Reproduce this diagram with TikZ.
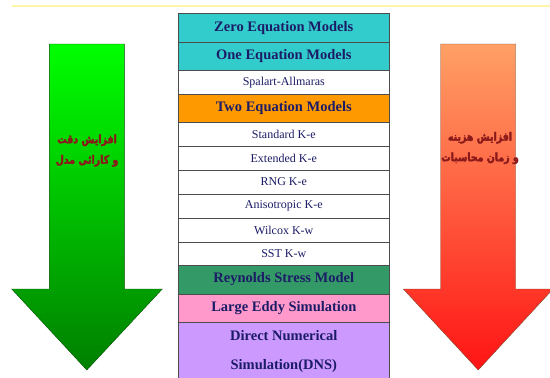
\documentclass[tikz,border=0pt]{standalone}
\usepackage{fontspec}
\setmainfont{Liberation Serif}
\newfontfamily\farsifont[Script=Arabic,FakeBold=3,FakeStretch=0.82]{DejaVu Sans Bold}
\TeXXeTstate=1
\usepackage{tikz}
\definecolor{textblue}{HTML}{1C1C66}
\definecolor{darkred}{HTML}{8B1A1A}
\definecolor{tcyan}{HTML}{33CCCC}
\definecolor{torange}{HTML}{FF9900}
\definecolor{tgreen}{HTML}{339966}
\definecolor{tpink}{HTML}{FF99CC}
\definecolor{tpurple}{HTML}{CC99FF}
\definecolor{topline}{HTML}{FFF4A8}
\definecolor{costtop}{HTML}{FFA066}
\definecolor{costbot}{HTML}{FF1414}
\definecolor{costrim}{HTML}{7A4A30}

\begin{document}
\begin{tikzpicture}[x=1pt,y=-1pt,
    cell/.style={draw=gray!60!black,minimum width=211pt,inner sep=0pt,text=textblue},
    hdr/.style={cell,font=\fontsize{14.5}{16}\selectfont\bfseries},
    item/.style={cell,fill=white,font=\fontsize{12}{14}\selectfont},
    farsi/.style={font=\farsifont\fontsize{11.5}{20.5}\selectfont,text=darkred,align=center}]
        % ستون جدول
        \newcommand{\colx}{283.8}

        \useasboundingbox (0,0) rectangle (550,378);

        % خط بالای صفحه
        \draw[topline,line width=2pt] (12,5.5) -- (550,5.5);

        % فلش سبز (چپ)
        \shade[top color=green,bottom color=green!50!black,draw=green!30!black,thin]
          (49.3,44) -- (124.3,44) -- (124.3,289) -- (162.3,289) -- (86.8,370)
          -- (11.7,289) -- (49.3,289) -- cycle;
        % فلش قرمز (راست)
        \shade[top color=costtop,bottom color=costbot,draw=costrim,thin]
          (440.7,44) -- (515.7,44) -- (515.7,289) -- (553,289) -- (478.2,370)
          -- (403.3,289) -- (440.7,289) -- cycle;

        \node[farsi] (acc) at (87,150.5) {\beginR افزایش دقت\endR\\\beginR و کارائی مدل\endR};
        \node[farsi] (cost) at (480,148) {\beginR افزایش هزینه\endR\\\beginR و زمان محاسبات\endR};

        % ردیف‌های جدول
        \node[hdr,fill=tcyan,minimum height=29pt] (zero) at (\colx,27.8) {Zero Equation Models};
        \node[hdr,fill=tcyan,minimum height=27.7pt] (one) at (\colx,56.2) {One Equation Models};
        \node[item,minimum height=24.3pt] (sa) at (\colx,82.2) {Spalart-Allmaras};
        \node[hdr,fill=torange,minimum height=28pt] (two) at (\colx,108.3) {Two Equation Models};
        \node[item,minimum height=23.9pt] (std) at (\colx,134.2) {Standard K-e};
        \node[item,minimum height=23.9pt] (ext) at (\colx,158.1) {Extended K-e};
        \node[item,minimum height=23.9pt] (rng) at (\colx,182) {RNG K-e};
        \node[item,minimum height=24pt] (ani) at (\colx,206) {Anisotropic K-e};
        \node[item,minimum height=24pt] (wil) at (\colx,230) {Wilcox K-w};
        \node[item,minimum height=23pt] (sst) at (\colx,253.5) {SST K-w};
        \node[hdr,fill=tgreen,minimum height=29pt] (rsm) at (\colx,279.5) {Reynolds Stress Model};
        \node[hdr,fill=tpink,minimum height=28.3pt] (les) at (\colx,308.2) {Large Eddy Simulation};
        \node[hdr,fill=tpurple,minimum height=58pt,align=center,
              font=\fontsize{14.5}{28.5}\selectfont\bfseries] (dns) at (\colx,351.3)
              {Direct Numerical\\Simulation(DNS)};
    \end{tikzpicture}
\end{document}
